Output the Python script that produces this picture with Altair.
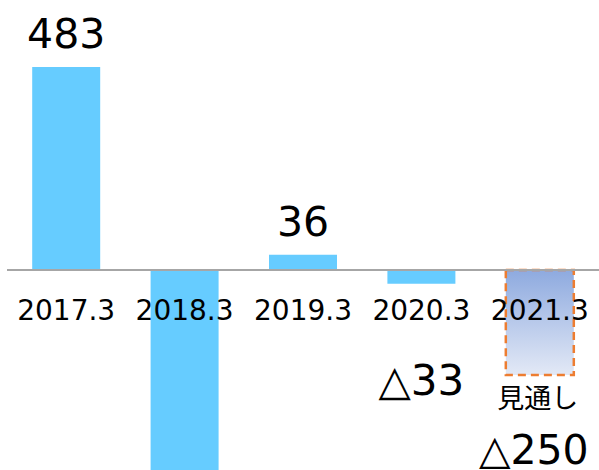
import altair as alt
import pandas as pd

periods = ["2017.3", "2018.3", "2019.3", "2020.3", "2021.3"]
values = [483, -700, 36, -33, -250]
is_forecast = [False, False, False, False, True]
value_labels = ["483", "", "36", "△33", "△250"]
forecast_note = "見通し"

df = pd.DataFrame({"period": periods, "value": values,
                   "forecast": is_forecast, "label": value_labels})

FONT = "DejaVu Sans"
x = alt.X("period:N", sort=periods, axis=None,
          scale=alt.Scale(paddingInner=0.4257, paddingOuter=0.2128))
yscale = alt.Scale(domain=[-475.86, 642.4], nice=False, zero=False)
y = alt.Y("value:Q", scale=yscale, axis=None)

base = alt.Chart(df).encode(x=x)

actual = base.transform_filter("!datum.forecast").mark_bar(
    color="#66CCFF", clip=True).encode(y=y, y2=alt.datum(0))

grad = alt.Gradient(
    gradient="linear",
    stops=[alt.GradientStop(color="#8eaadf", offset=0),
           alt.GradientStop(color="#e3e9f6", offset=1)],
    x1=0, x2=0, y1=0, y2=1)
forecast = base.transform_filter("datum.forecast").mark_bar(
    fill=grad, stroke="#ED7D31", strokeDash=[8, 5], strokeWidth=2.5,
    clip=True).encode(y=y, y2=alt.datum(0))

zero = alt.Chart(pd.DataFrame({"z": [0]})).mark_rule(
    color="#a6a6a6", strokeWidth=2).encode(y=alt.Y("z:Q", scale=yscale, axis=None))

ticks = base.mark_text(fontSize=28, font=FONT, color="black",
                       baseline="alphabetic").encode(
    y=alt.value(320), text="period:N")

pos_labels = base.transform_filter("datum.value > 0").mark_text(
    fontSize=41, font=FONT, color="black", baseline="alphabetic", dy=-19
).encode(y=y, text="label:N")

lab33 = base.transform_filter("datum.period == '2020.3'").mark_text(
    fontSize=42, font=FONT, color="black", baseline="alphabetic", dy=111
).encode(y=y, text="label:N")

lab250 = base.transform_filter("datum.period == '2021.3'").mark_text(
    fontSize=41, font=FONT, color="black", baseline="alphabetic", dy=89, dx=-6
).encode(y=y, text="label:N")

note = base.transform_filter("datum.forecast").mark_text(
    text=forecast_note, fontSize=27, font="Noto Sans CJK JP", color="black",
    baseline="middle", dy=25, dx=-2
).encode(y=y)

chart = alt.layer(actual, forecast, zero, ticks, pos_labels, lab33, lab250, note).properties(
    width=592, height=470,
    autosize=alt.AutoSizeParams(type="none"),
    padding={"left": 7, "top": 0, "right": 0, "bottom": 0},
    background="white",
).configure_view(stroke=None)

chart.save("out.html", embed_options={"renderer": "svg", "actions": False})
